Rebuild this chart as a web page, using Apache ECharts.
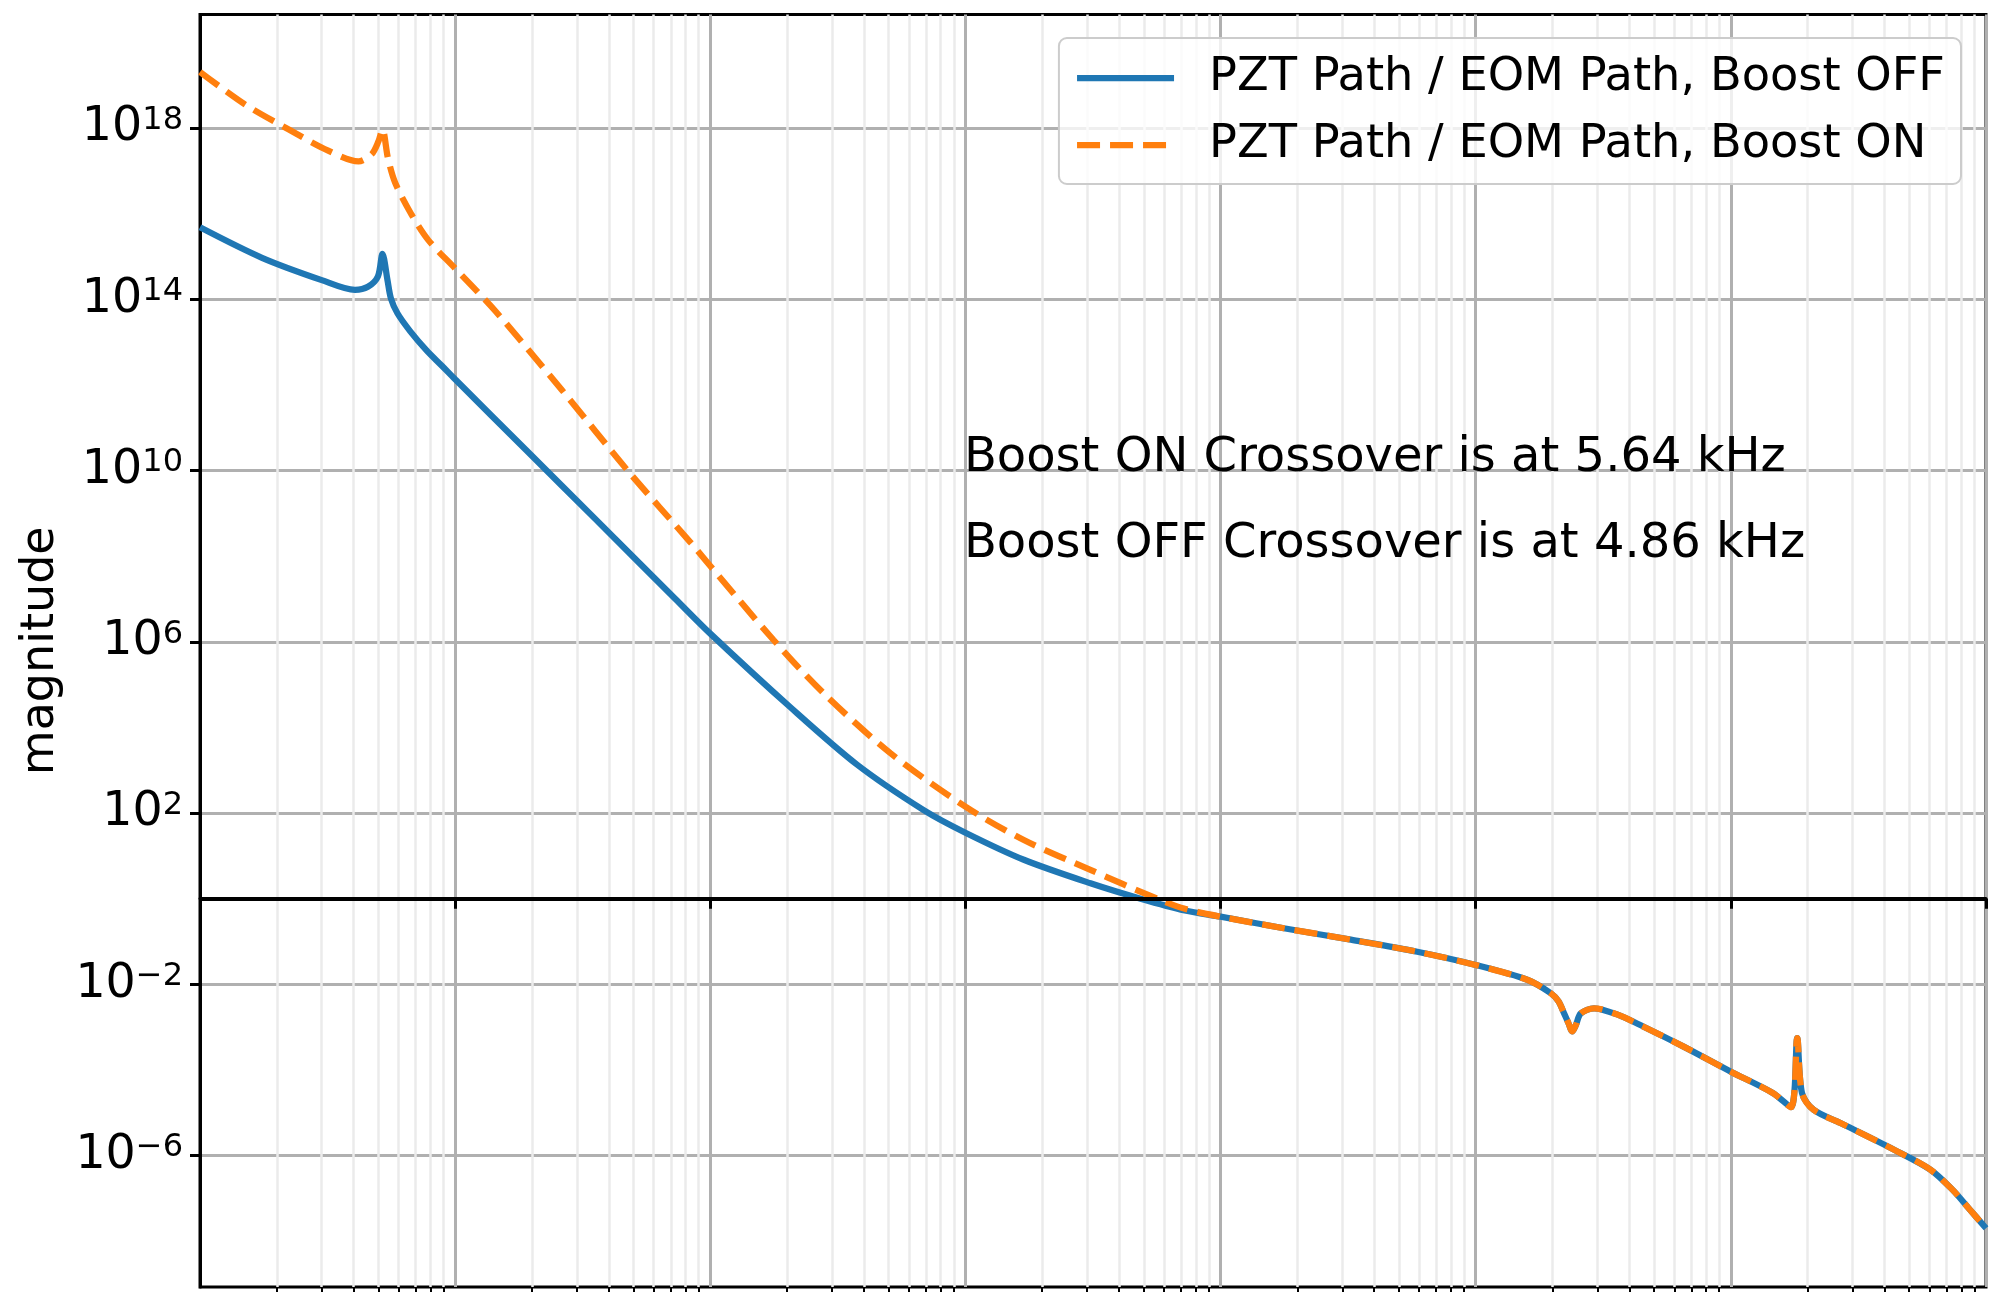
<!DOCTYPE html>
<html>
<head>
<meta charset="utf-8">
<title>PZT Path / EOM Path crossover</title>
<script src="https://cdn.jsdelivr.net/npm/echarts@6.0.0/dist/echarts.min.js"></script>
<style>
    html, body { margin: 0; padding: 0; background: #ffffff; }
    #chart { width: 2005px; height: 1292px; }
</style>
</head>
<body>
<div id="chart"></div>
<script>
// Frequency in Hz, magnitude is the PZT path / EOM path ratio

// Boost OFF, up to where both curves merge
const freqOff = [1, 1.75, 3.0, 4.05, 4.55, 4.98, 5.19, 5.43, 5.6, 5.94, 6.67, 7.74, 8.87, 10,
    19.4, 35.4, 73, 100, 206, 376, 686, 1000, 1694, 3090, 4860, 7250];
const magOff = [4.8e15, 9.3e14, 2.8e14, 1.66e14, 1.95e14, 3.4e14, 1.15e15, 2.8e14, 1.05e14, 4.7e13, 1.78e13, 6.3e12, 2.8e12, 1.35e12,
    2.63e10, 7.4e8, 1.0e7, 1.55e6, 2.95e4, 1350, 117, 34.7, 8.1, 2.29, 1.0, 0.53];

// Boost ON, same range
const freqOn = [1, 1.5, 2.22, 3.18, 4.18, 4.71, 5.0, 5.19, 5.45, 5.82, 6.76, 7.85, 10,
    14.4, 26.2, 47.9, 83.6, 100, 177, 278, 508, 1000, 1694, 3090, 5640, 7250];
const magOn = [2.04e19, 3.55e18, 9.3e17, 2.95e17, 1.66e17, 2.45e17, 4.8e17, 9.3e17, 2.0e17, 5.25e16, 9.3e15, 2.4e15, 5.25e14,
    5.25e13, 7.6e11, 9.3e9, 2.1e8, 5.9e7, 1.1e6, 6.3e4, 2.5e3, 141, 23.4, 4.7, 1.0, 0.58];

// above ~10 kHz the two curves lie on top of each other
const freqTail = [1e4, 1.77e4, 3.24e4, 5.9e4, 1e5, 1.6e5, 1.97e5, 2.11e5, 2.22e5, 2.31e5, 2.39e5, 2.47e5,
    2.58e5, 2.91e5, 3.6e5, 4.55e5, 6.5e5, 1e6, 1.46e6, 1.72e6, 1.82e6, 1.9e6, 2.11e6, 2.69e6,
    4.38e6, 6.05e6, 7.4e6, 8.55e6, 1e7];
const magTail = [0.38, 0.204, 0.11, 0.0575, 0.0282, 0.0126, 0.00617, 0.0040, 0.00209, 0.00123, 7.9e-4, 1.12e-3,
    2.09e-3, 2.75e-3, 1.95e-3, 1.02e-3, 3.55e-4, 9.1e-5, 2.9e-5, 1.35e-5, 5.5e-4, 2.9e-5, 1.17e-5, 5.75e-6,
    1.35e-6, 4.7e-7, 1.58e-7, 5.9e-8, 2.0e-8];

const seriesNames = ['PZT Path / EOM Path, Boost OFF', 'PZT Path / EOM Path, Boost ON'];
const notes = ['Boost ON Crossover is at 5.64 kHz', 'Boost OFF Crossover is at 4.86 kHz'];
const noteFreq = [1000, 1000];
const noteMag = [1e10, 1e8];
const unityLevel = 1;

// y ticks as powers of ten, axis ranges
const yTickExp = [-6, -2, 2, 6, 10, 14, 18];
const yRangeExp = [-9.07, 20.65];
const xRange = [1, 1e7];
const minorSteps = [2, 3, 4, 5, 6, 7, 8, 9];

const FONT = 'DejaVu Sans';

function pairs(xs, ys) {
    return xs.map((x, i) => [x, ys[i]]);
}

function supText(n) {
    return n < 0 ? '\u2212' + (-n) : String(n);
}

// minor grid positions (2..9 in each decade), in decades for the helper axis
const minorTicks = [];
for (let d = 0; d < 7; d++) {
    minorSteps.forEach(k => minorTicks.push(Math.log10(k) + d));
}

const chart = echarts.init(document.getElementById('chart'), null, { renderer: 'canvas' });

const option = {
    animation: false,
    backgroundColor: '#ffffff',
    textStyle: { fontFamily: FONT },
    grid: {
        left: 200, right: 19, top: 14.5, bottom: 5,
        show: true, borderColor: '#000000', borderWidth: 3,
        containLabel: false, outerBoundsMode: 'none'
    },
    legend: {
        data: seriesNames,
        orient: 'vertical',
        right: 44, top: 38,
        padding: [17, 16, 16, 15],
        itemWidth: 97, itemHeight: 46, itemGap: 21,
        backgroundColor: 'rgba(255,255,255,0.8)',
        borderColor: '#cccccc', borderWidth: 2, borderRadius: 8,
        itemStyle: { opacity: 0 },
        lineStyle: { width: 6.25 },
        textStyle: { fontSize: 46.3, fontFamily: FONT, color: '#000000', padding: [0, 0, 0, 30] }
    },
    xAxis: [{
        type: 'log', logBase: 10, min: xRange[0], max: xRange[1],
        axisLine: { show: true, lineStyle: { color: '#000000', width: 3 } },
        axisTick: { show: true, length: 10, lineStyle: { color: '#000000', width: 3 } },
        axisLabel: { show: false },
        splitLine: { show: true, lineStyle: { color: '#b0b0b0', width: 3 } }
    }, {
        // decorative axis for the 2..9 minor grid lines
        type: 'value', min: 0, max: 7, position: 'bottom',
        axisLine: { show: false },
        axisTick: { show: true, length: 6, customValues: minorTicks, lineStyle: { color: '#000000', width: 2 } },
        axisLabel: { show: false },
        splitLine: { show: true, lineStyle: { color: '#ebebeb', width: 2.5 } }
    }],
    yAxis: [{
        type: 'log', logBase: 10,
        min: Math.pow(10, yRangeExp[0]), max: Math.pow(10, yRangeExp[1]),
        axisLine: { show: false },
        axisTick: { show: false },
        axisLabel: { show: false },
        splitLine: { show: false }
    }, {
        // labelled axis in decades, lines up with the log axis above
        type: 'value', min: yRangeExp[0], max: yRangeExp[1], position: 'left',
        name: 'magnitude', nameLocation: 'middle', nameRotate: 90, nameGap: 136,
        nameTextStyle: { fontSize: 46, fontFamily: FONT, color: '#000000' },
        axisLine: { show: true, lineStyle: { color: '#000000', width: 3 } },
        axisTick: { show: true, length: 10, customValues: yTickExp, lineStyle: { color: '#000000', width: 3 } },
        axisLabel: {
            show: true, margin: 17, customValues: yTickExp,
            formatter: v => '{b|10}{s|' + supText(v) + '}',
            rich: {
                b: { fontSize: 47.5, fontFamily: FONT, color: '#000000', lineHeight: 47 },
                s: { fontSize: 32, fontFamily: FONT, color: '#000000', lineHeight: 26, verticalAlign: 'top' }
            }
        },
        splitLine: { show: true, lineStyle: { color: '#b0b0b0', width: 3 } }
    }],
    series: [{
        name: seriesNames[0],
        type: 'line',
        xAxisIndex: 0, yAxisIndex: 0,
        data: pairs(freqOff.concat(freqTail), magOff.concat(magTail)),
        symbol: 'none', smooth: 0.3,
        lineStyle: { color: '#1f77b4', width: 6.25 },
        itemStyle: { color: '#1f77b4' },
        z: 3,
        markLine: {
            silent: true, symbol: 'none',
            label: { show: false },
            lineStyle: { color: '#000000', width: 4, type: 'solid' },
            data: [{ yAxis: unityLevel }]
        },
        markPoint: {
            silent: true, symbol: 'circle', symbolSize: 1,
            itemStyle: { color: 'rgba(0,0,0,0)' },
            label: {
                show: true, position: 'right', distance: 0, offset: [-2, -12],
                formatter: p => p.name,
                fontSize: 48, fontFamily: FONT, color: '#000000'
            },
            data: notes.map((t, i) => ({ name: t, coord: [noteFreq[i], noteMag[i]] }))
        }
    }, {
        name: seriesNames[1],
        type: 'line',
        xAxisIndex: 0, yAxisIndex: 0,
        data: pairs(freqOn.concat(freqTail), magOn.concat(magTail)),
        symbol: 'none', smooth: 0.3,
        lineStyle: { color: '#ff7f0e', width: 6.25, type: [23, 10] },
        itemStyle: { color: '#ff7f0e' },
        z: 4
    }]
};

chart.setOption(option);
</script>
</body>
</html>
